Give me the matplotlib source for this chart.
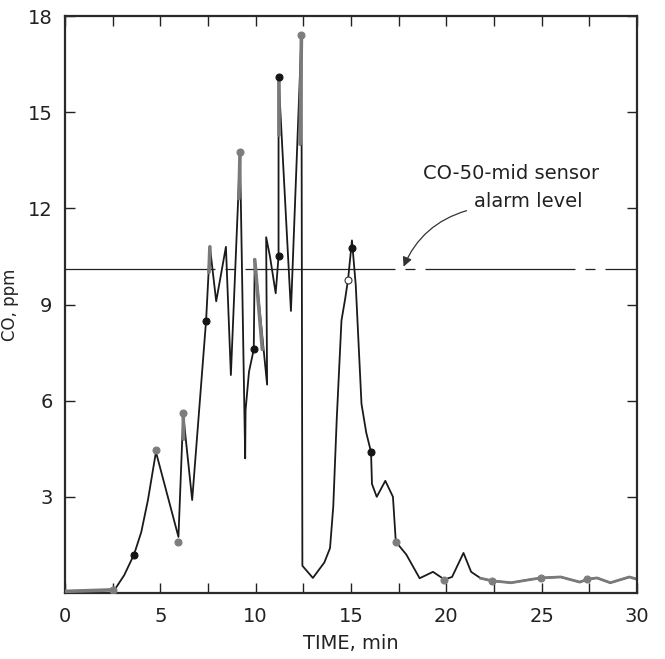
import matplotlib
matplotlib.use("Agg")
import matplotlib.pyplot as plt
from matplotlib.ticker import MultipleLocator

# ---- data ----
time_min = [0.0, 2.6, 3.1, 3.62, 4.0, 4.35, 4.77, 5.95, 6.2, 6.3, 6.67, 7.4, 7.6, 7.93,
            8.44, 8.7, 9.18, 9.45, 9.47, 9.65, 9.9, 9.95, 10.6, 10.55, 10.75, 11.05,
            11.2, 11.2, 11.85, 12.4, 12.45, 13.0, 13.6, 13.9, 14.07, 14.25, 14.5, 14.7,
            14.85, 15.05, 15.25, 15.55, 15.8, 16.05, 16.1, 16.35, 16.8, 17.2, 17.35,
            17.9, 18.6, 19.3, 19.9, 20.3, 20.9, 21.3, 21.8, 22.4, 23.4, 24.2, 24.95,
            26.0, 27.0, 27.4, 27.9, 28.6, 29.6, 30.0]
co_ppm = [0.05, 0.1, 0.55, 1.2, 1.9, 2.9, 4.4, 1.75, 5.6, 5.0, 2.9, 8.5, 10.8, 9.1,
          10.8, 6.8, 13.7, 4.2, 5.7, 6.9, 7.6, 10.4, 6.5, 11.1, 10.5, 9.35,
          10.5, 16.1, 8.8, 17.4, 0.85, 0.47, 0.95, 1.4, 2.7, 5.4, 8.5, 9.2,
          9.8, 11.0, 9.6, 5.9, 5.0, 4.4, 3.4, 3.0, 3.5, 3.0, 1.6,
          1.2, 0.46, 0.66, 0.42, 0.5, 1.25, 0.66, 0.46, 0.38, 0.32, 0.4, 0.47,
          0.5, 0.34, 0.43, 0.47, 0.32, 0.5, 0.43]

# gray (overdrawn) stretches of the trace: (t0, co0, t1, co1)
gray_t0 = [9.12, 11.2, 12.33, 7.55, 9.95, 6.2, 0.0]
gray_c0 = [12.3, 14.3, 14.0, 10.0, 10.4, 5.6, 0.05]
gray_t1 = [9.18, 11.2, 12.4, 7.6, 10.35, 6.22, 2.6]
gray_c1 = [13.7, 16.1, 17.4, 10.8, 7.6, 4.8, 0.1]

marker_t = [2.5, 3.62, 4.77, 5.95, 6.2, 7.4, 9.18, 9.9, 11.2, 11.2, 12.4, 14.85, 15.05,
            16.05, 17.35, 19.9, 22.4, 24.95, 27.4]
marker_co = [0.1, 1.2, 4.45, 1.6, 5.6, 8.5, 13.75, 7.6, 10.5, 16.1, 17.4, 9.75, 10.75,
             4.4, 1.6, 0.42, 0.38, 0.47, 0.43]
marker_shade = ["gray", "black", "gray", "gray", "gray", "black", "gray", "black", "black",
                "black", "gray", "white", "black", "black", "gray", "gray", "gray", "gray",
                "gray"]

alarm_level = 10.1
x_ticks = [0, 5, 10, 15, 20, 25, 30]
y_ticks = [3, 6, 9, 12, 15, 18]

# ---- figure ----
fig = plt.figure(figsize=(6.65, 6.59), dpi=100)
ax = fig.add_axes([65 / 665, 1 - 593 / 659, (637 - 65) / 665, (593 - 16) / 659])

ax.axhline(alarm_level, color="#222222", lw=0.9, linestyle=(0, (120, 8, 8, 8)))

ax.plot(time_min, co_ppm, color="#1a1a1a", lw=1.3, solid_joinstyle="round")
tail = [i for i, t in enumerate(time_min) if t >= 21.5]
ax.plot([time_min[i] for i in tail], [co_ppm[i] for i in tail], color="#7a7a7a", lw=2.0)
for a, b, c, d in zip(gray_t0, gray_c0, gray_t1, gray_c1):
    ax.plot([a, c], [b, d], color="#7a7a7a", lw=2.6, solid_capstyle="round", zorder=3)

shade_map = {"black": ("#151515", "#151515"), "gray": ("#7d7d7d", "#7d7d7d"),
             "white": ("white", "#333333")}
for t, c, s in zip(marker_t, marker_co, marker_shade):
    fc, ec = shade_map[s]
    ax.plot([t], [c], marker="o", ms=5.0, mfc=fc, mec=ec, mew=0.8, zorder=5)

ax.set_xlim(0, 30)
ax.set_ylim(0, 18)
ax.set_xticks(x_ticks)
ax.set_xticklabels([str(v) for v in x_ticks])
ax.set_yticks(y_ticks)
ax.set_yticklabels([str(v) for v in y_ticks])
ax.xaxis.set_minor_locator(MultipleLocator(2.5))

ax.tick_params(axis="both", which="both", direction="in", top=True, right=True,
               length=7, width=1.0, color="#222222")
ax.tick_params(axis="both", which="major", labelsize=14, colors="#222222")
ax.tick_params(axis="x", which="major", pad=10)
ax.tick_params(axis="y", which="major", pad=9)

for sp in ax.spines.values():
    sp.set_linewidth(1.6)
    sp.set_color("#2a2a2a")

ax.set_xlabel("TIME, min", fontsize=14, color="#222222", labelpad=6)
ax.set_ylabel("CO, ppm", fontsize=12, color="#222222", labelpad=6)

ax.text(23.4, 13.1, "CO-50-mid sensor", fontsize=14, ha="center", va="center",
        color="#222222")
ax.text(24.3, 12.2, "alarm level", fontsize=14, ha="center", va="center",
        color="#222222")
ax.annotate("", xy=(17.7, alarm_level), xytext=(21.2, 11.95),
            arrowprops=dict(arrowstyle="-|>", color="#333333", lw=0.9,
                            mutation_scale=14,
                            connectionstyle="arc3,rad=0.25"))

fig.savefig("out.png", dpi=100)
